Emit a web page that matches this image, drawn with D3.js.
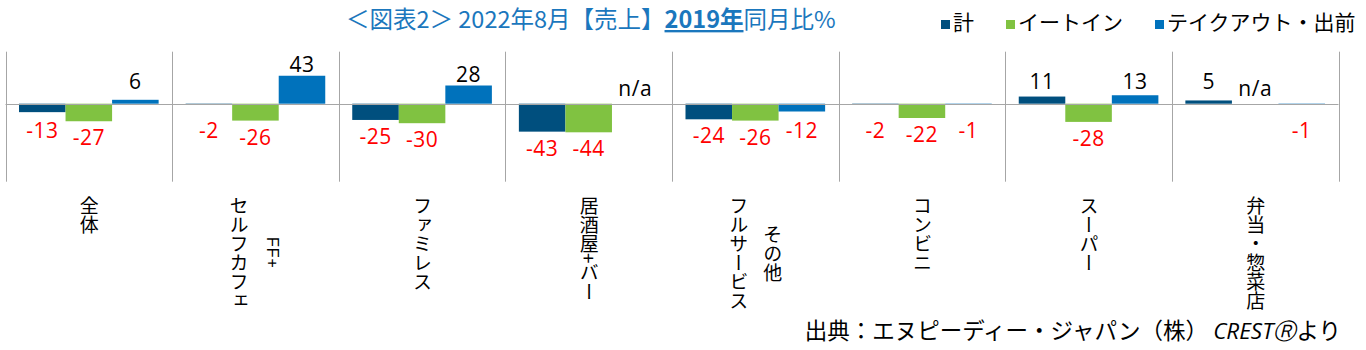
<!DOCTYPE html>
<html><head><meta charset="utf-8">
<script src="https://cdn.jsdelivr.net/npm/d3@7"></script>
<style>
html,body{margin:0;padding:0;background:#fff;}
#wrap{position:relative;width:1366px;height:350px;overflow:hidden;background:#fff;}
svg{position:absolute;left:0;top:0;}
.cat{position:absolute;writing-mode:vertical-lr;text-align:center;font-family:'Noto Sans CJK JP';font-size:19px;line-height:34px;color:#000;white-space:nowrap;}
.cat .small{font-family:'Liberation Sans';font-size:16px;letter-spacing:1px;}
</style></head><body><div id="wrap"></div>
<script>
// ---- data ----
const categories = ["全体","セルフカフェ+FF","ファミレス","居酒屋+バー","フルサービスその他","コンビニ","スーパー","弁当・惣菜店"];
const categoryLine1 = ["全体","セルフカフェ","ファミレス","居酒屋+バー","フルサービス","コンビニ","スーパー","弁当・惣菜店"];
const categoryLine2 = ["","FF+","","","その他","","",""];
const seriesNames = ["計","イートイン","テイクアウト・出前"];
const total   = [-13, -2, -25, -43, -24, -2, 11, 5];
const eatIn   = [-27, -26, -30, -44, -26, -22, -28, null];
const takeout = [6, 43, 28, null, -12, -1, 13, -1];
const yDomain = [-120, 80];
const titleParts = ["＜図表2＞ 2022年8月【売上】", "2019年", "同月比%"];
const sourceText = "出典：エヌピーディー・ジャパン（株） ";
const sourceBrand = "CRESTⓇ";
const sourceTail = "より";

const colors = ["#004F7E", "#80C241", "#0072BC"];
const seriesValues = [total, eatIn, takeout];

const W = 1366, H = 350;
const wrap = d3.select("#wrap");
const svg = wrap.append("svg").attr("width", W).attr("height", H);

const x0 = d3.scaleBand().domain(categories).range([5.5, 1338.5]).paddingInner(0).paddingOuter(0);
const x1 = d3.scaleBand().domain(seriesNames).range([0, x0.bandwidth()]).paddingInner(0).paddingOuter(0.29);
const y = d3.scaleLinear().domain(yDomain).range([181.7, 51.7]);
const zero = y(0);

// vertical gridlines at category boundaries
const bounds = categories.map(c => x0(c)).concat([x0.range()[1]]);
svg.append("g").selectAll("line").data(bounds).join("line")
  .attr("x1", d => Math.round(d) + 0.5).attr("x2", d => Math.round(d) + 0.5)
  .attr("y1", y.range()[1]).attr("y2", y.range()[0])
  .attr("stroke", "#A6A6A6").attr("stroke-width", 1);

// bars
const flat = [];
categories.forEach((c, i) => {
  seriesNames.forEach((s, j) => {
    flat.push({c, s, j, v: seriesValues[j][i]});
  });
});
svg.append("g").selectAll("rect").data(flat.filter(d => d.v !== null)).join("rect")
  .attr("x", d => x0(d.c) + x1(d.s))
  .attr("width", x1.bandwidth())
  .attr("y", d => Math.min(y(d.v), zero))
  .attr("height", d => Math.max(1, Math.abs(y(d.v) - zero)))
  .attr("fill", d => colors[d.j]);

// zero axis line
svg.append("line").attr("x1", x0.range()[0]).attr("x2", x0.range()[1])
  .attr("y1", Math.round(zero) + 0.5).attr("y2", Math.round(zero) + 0.5)
  .attr("stroke", "#A6A6A6").attr("stroke-width", 1);

// data labels
const fs = 21, cap = 0.714 * fs;
svg.append("g").selectAll("text").data(flat).join("text")
  .attr("x", d => x0(d.c) + x1(d.s) + x1.bandwidth() / 2)
  .attr("y", d => {
    if (d.v === null) return zero - 8;
    if (d.v >= 0) return Math.min(y(d.v) - 4, zero - 15);
    return Math.max(y(d.v) + 9, zero + 19) + cap;
  })
  .attr("text-anchor", "middle")
  .attr("font-family", "'Open Sans'")
  .attr("font-size", fs)
  .attr("letter-spacing", 0.5)
  .attr("fill", d => (d.v !== null && d.v < 0) ? "#FF0000" : "#000")
  .text(d => d.v === null ? "n/a" : d.v);

// category labels (vertical)
categories.forEach((c, i) => {
  const div = wrap.append("div").attr("class", "cat")
    .style("top", "196px")
    .style("left", (x0(c) + x0.bandwidth() / 2) + "px")
    .style("transform", "translateX(-50%)");
  div.append("span").text(categoryLine1[i]);
  if (categoryLine2[i]) {
    div.append("br");
    const isAscii = /^[\x00-\x7f]+$/.test(categoryLine2[i]);
    div.append("span").attr("class", isAscii ? "small" : null).text(categoryLine2[i]);
  }
});

// title
const title = svg.append("text").attr("x", 346).attr("y", 28)
  .attr("font-family", "'Noto Sans CJK JP'").attr("font-size", 23.5).attr("fill", "#1B77BD");
title.append("tspan").text(titleParts[0]);
title.append("tspan").attr("font-weight", "bold").attr("text-decoration", "underline").text(titleParts[1]);
title.append("tspan").text(titleParts[2]);

// legend
const legendX = [941, 1006, 1155];
const lg = svg.append("g");
seriesNames.forEach((s, j) => {
  lg.append("rect").attr("x", legendX[j]).attr("y", 20).attr("width", 9).attr("height", 9).attr("fill", colors[j]);
  lg.append("text").attr("x", legendX[j] + 12).attr("y", 30)
    .attr("font-family", "'Noto Sans CJK JP'").attr("font-size", 21).attr("fill", "#000").text(s);
});

// source
const src = svg.append("text").attr("x", 1341).attr("y", 339).attr("text-anchor", "end")
  .attr("font-family", "'Noto Sans CJK JP'").attr("font-size", 22.5).attr("fill", "#000");
src.append("tspan").text(sourceText);
src.append("tspan").attr("font-family", "'Open Sans'").attr("font-style", "italic").text(sourceBrand);
src.append("tspan").text(sourceTail);
</script></body></html>
